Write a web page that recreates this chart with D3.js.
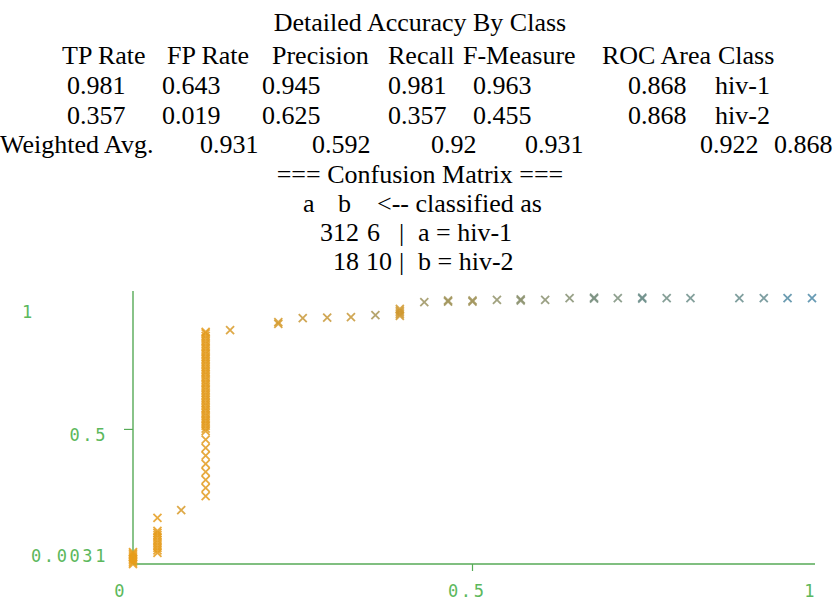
<!DOCTYPE html>
<html>
<head>
<meta charset="utf-8">
<script src="https://cdn.jsdelivr.net/npm/d3@7"></script>
<style>
body { margin: 0; background: #fff; }
</style>
</head>
<body>
<script>
var w = 834, h = 602;

// weka text output
var title = "Detailed Accuracy By Class";
var headers = ["TP Rate", "FP Rate", "Precision", "Recall", "F-Measure", "ROC Area", "Class"];
var rowHiv1 = ["0.981", "0.643", "0.945", "0.981", "0.963", "0.868", "hiv-1"];
var rowHiv2 = ["0.357", "0.019", "0.625", "0.357", "0.455", "0.868", "hiv-2"];
var rowWeighted = ["Weighted Avg.", "0.931", "0.592", "0.92", "0.931", "0.922", "0.868"];
var matrixTitle = "=== Confusion Matrix ===";
var matrixHead = ["a", "b", "<-- classified as"];
var matrixRow1 = ["312", "6", "|", "a = hiv-1"];
var matrixRow2 = ["18", "10", "|", "b = hiv-2"];

// ROC curve: one FP rate per column, TP rates of the points in that column
var fpRate = [0, 0.036, 0.071, 0.107, 0.143, 0.214, 0.25, 0.286, 0.321, 0.357, 0.393, 0.429, 0.464,
              0.5, 0.536, 0.571, 0.607, 0.643, 0.679, 0.714, 0.75, 0.786, 0.821, 0.893, 0.929, 0.964, 1];
var tpRate = [
  [0.0031, 0.0094, 0.016, 0.022, 0.028, 0.035, 0.041, 0.047],
  [0.044, 0.053, 0.063, 0.072, 0.082, 0.091, 0.101, 0.110, 0.118, 0.125, 0.173],
  [0.202],
  [0.254, 0.284, 0.314, 0.343, 0.373, 0.403, 0.432, 0.462, 0.494, 0.503, 0.513, 0.522, 0.532, 0.541,
   0.551, 0.560, 0.570, 0.579, 0.589, 0.598, 0.608, 0.617, 0.627, 0.636, 0.646, 0.655, 0.665, 0.674,
   0.684, 0.693, 0.703, 0.712, 0.722, 0.731, 0.741, 0.750, 0.760, 0.769, 0.779, 0.788, 0.798, 0.807,
   0.817, 0.826, 0.836, 0.845, 0.855, 0.860],
  [0.867],
  [0.890, 0.896],
  [0.911],
  [0.913],
  [0.915],
  [0.922],
  [0.919, 0.926, 0.932, 0.939, 0.945],
  [0.970],
  [0.972, 0.976],
  [0.972, 0.976],
  [0.978],
  [0.976, 0.980],
  [0.978],
  [0.985],
  [0.983, 0.987],
  [0.985],
  [0.983, 0.987],
  [0.985],
  [0.985],
  [0.985],
  [0.985],
  [0.985],
  [0.985]
];
var threshold = [1.0, 0.98, 0.9, 0.97, 0.9, 0.88, 0.8, 0.8, 0.8, 0.6, 0.85, 0.52, 0.55, 0.55, 0.45,
                 0.42, 0.4, 0.38, 0.3, 0.32, 0.22, 0.25, 0.22, 0.2, 0.18, 0.05, 0.02];
var xTicks = [0, 0.5, 1];
var yTicks = [0.0031, 0.5, 1];

var svg = d3.select("body").append("svg")
    .attr("width", w)
    .attr("height", h);

// ---- text part
var txt = svg.append("g")
    .attr("font-family", "'Liberation Serif', 'Times New Roman', serif")
    .attr("font-size", 26)
    .attr("fill", "#000");

var lineY = [31, 64, 94, 124, 153, 183, 212, 241, 270];

function tokens(arr, xs, y) {
  txt.append("g").selectAll("text")
    .data(arr)
    .enter()
    .append("text")
    .attr("x", function(d, i) { return xs[i]; })
    .attr("y", y)
    .text(function(d) { return d; });
}

txt.append("text").attr("x", 420).attr("y", lineY[0]).attr("text-anchor", "middle").text(title);
tokens(headers, [62, 167, 272, 388, 463, 602, 718], lineY[1]);
tokens(rowHiv1, [67, 162, 262, 388, 473, 628, 715], lineY[2]);
tokens(rowHiv2, [67, 162, 262, 388, 473, 628, 715], lineY[3]);
tokens(rowWeighted, [0, 200, 312, 431, 525, 700, 774], lineY[4]);
txt.append("text").attr("x", 420).attr("y", lineY[5]).attr("text-anchor", "middle").text(matrixTitle);
tokens(matrixHead, [303, 338, 377], lineY[6]);
tokens(matrixRow1, [320, 367, 399, 418], lineY[7]);
tokens(matrixRow2, [333, 366, 399, 418], lineY[8]);

// ---- ROC plot
var x = d3.scaleLinear().domain([0, 1]).range([133, 812]);
var y = d3.scaleLinear().domain([0.0031, 1]).range([564, 294]);
var color = d3.scaleLinear().domain([0, 1]).range(["#4a8aaa", "#e89c1a"]);

var green = "#56aa56";
var plot = svg.append("g");

plot.append("line")
    .attr("x1", x(0)).attr("x2", x(0))
    .attr("y1", 291).attr("y2", y(0.0031))
    .attr("stroke", green).attr("stroke-width", 1.4);
plot.append("line")
    .attr("x1", x(0)).attr("x2", 815)
    .attr("y1", y(0.0031)).attr("y2", y(0.0031))
    .attr("stroke", green).attr("stroke-width", 1.4);

// mid ticks
plot.append("line")
    .attr("x1", x(0) - 9).attr("x2", x(0))
    .attr("y1", y(yTicks[1])).attr("y2", y(yTicks[1]))
    .attr("stroke", green).attr("stroke-width", 1.2);
plot.append("line")
    .attr("x1", x(xTicks[1])).attr("x2", x(xTicks[1]))
    .attr("y1", y(0.0031)).attr("y2", y(0.0031) + 7)
    .attr("stroke", green).attr("stroke-width", 1.2);

var lab = plot.append("g")
    .attr("font-family", "'DejaVu Sans Mono', monospace")
    .attr("font-size", 17)
    .attr("letter-spacing", 2.6)
    .attr("fill", "#5cb85c");

lab.selectAll("text.y")
    .data(yTicks)
    .enter()
    .append("text")
    .attr("class", "y")
    .attr("x", function(d, i) { return i == yTicks.length - 1 ? 22 : 108; })
    .attr("y", function(d, i) {
      if (i == 0) return y(d) - 2;
      if (i == yTicks.length - 1) return y(d) + 24;
      return y(d) + 12;
    })
    .attr("text-anchor", function(d, i) { return i == yTicks.length - 1 ? "start" : "end"; })
    .text(function(d) { return d; });

lab.selectAll("text.x")
    .data(xTicks)
    .enter()
    .append("text")
    .attr("class", "x")
    .attr("x", function(d, i) {
      if (i == 0) return x(d) - 6;
      if (i == xTicks.length - 1) return x(d) + 5;
      return x(d) + 14;
    })
    .attr("y", 597)
    .attr("text-anchor", "end")
    .text(function(d) { return d; });

// points
var points = [];
fpRate.forEach(function(fp, i) {
  tpRate[i].forEach(function(tp) {
    points.push({ fp: fp, tp: tp, t: threshold[i] });
  });
});

plot.append("g").selectAll("path")
    .data(points)
    .enter()
    .append("path")
    .attr("transform", function(d) { return "translate(" + x(d.fp) + "," + y(d.tp) + ")"; })
    .attr("d", "M-4,-4L4,4M-4,4L4,-4")
    .attr("fill", "none")
    .attr("stroke", function(d) { return color(d.t); })
    .attr("stroke-width", 1.8)
    .attr("stroke-opacity", 0.85);
</script>
</body>
</html>
